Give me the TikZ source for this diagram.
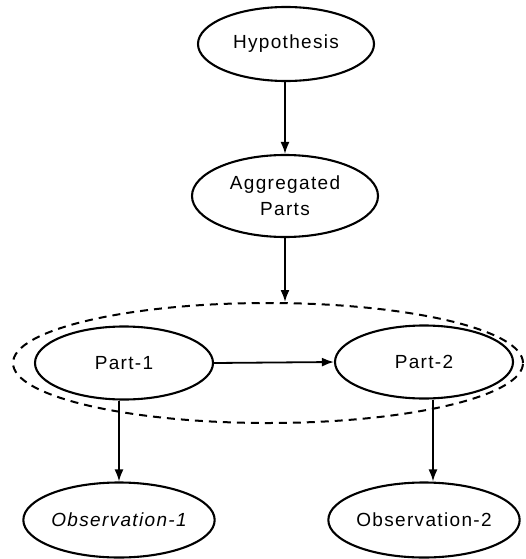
\documentclass[tikz,border=0pt]{standalone}
\usepackage{fontspec}
\setmainfont{Liberation Sans}[LetterSpace=7]
\usetikzlibrary{shapes.geometric,arrows.meta}
\tikzset{
  nd/.style={ellipse, draw, line width=2.1pt, inner sep=0pt,
    font=\fontsize{19}{26}\selectfont, align=center},
  grp/.style={ellipse, draw, line width=2pt, dash pattern=on 8pt off 6pt, inner sep=0pt},
  arr/.style={line width=1.8pt, -{Latex[length=12pt,width=9pt]}}
}
\begin{document}
\begin{tikzpicture}[x=1pt,y=-1pt]
\useasboundingbox (0,0) rectangle (525,559);
\node[nd, minimum width=176pt, minimum height=74pt] (hyp) at (286,44) {Hypothesis};
\node[nd, minimum width=186pt, minimum height=82pt] (agg) at (285,196) {Aggregated\\Parts};
\node[grp, minimum width=510pt, minimum height=120pt] (grp) at (268,363) {};
\node[nd, minimum width=178pt, minimum height=73pt] (p1) at (124,363) {Part-1};
\node[nd, minimum width=178pt, minimum height=73pt] (p2) at (424,362) {Part-2};
\node[nd, minimum width=160pt, minimum height=75pt] (o1) at (119,520) {\itshape Observation-1};
\node[nd, minimum width=182pt, minimum height=75pt] (o2) at (424,520) {Observation-2};
\draw[arr] (hyp.south -| agg.north) -- (agg.north);
\draw[arr] (agg.south) -- (agg.south |- grp.north);
\draw[arr] (p1.east) -- (p2.west);
\draw[arr] (p1.south -| o1.north) -- (o1.north);
\draw[arr] ([xshift=9pt]p2.south) -- ([xshift=9pt]o2.north);
\end{tikzpicture}
\end{document}
